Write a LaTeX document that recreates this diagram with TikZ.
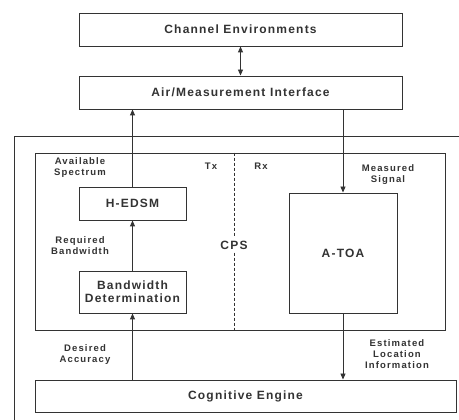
\documentclass[tikz,border=0pt]{standalone}
\usepackage{fontspec}
\setmainfont{Liberation Sans}
\newfontfamily\boxfont[LetterSpace=10]{Liberation Sans}
\newfontfamily\lblfont[LetterSpace=12]{Liberation Sans}
\usetikzlibrary{arrows.meta}
\definecolor{ink}{HTML}{333333}
\begin{document}
\begin{tikzpicture}[x=1pt,y=-1pt,
  box/.style={draw=ink,line width=0.9pt,inner sep=0pt,align=center,font=\boxfont\bfseries\fontsize{12}{13}\selectfont,text=ink},
  lbl/.style={inner sep=0pt,align=center,font=\lblfont\bfseries\fontsize{9.5}{11}\selectfont,text=ink},
  arr/.style={draw=ink,line width=0.9pt,-{Triangle[length=6pt,width=5pt]}},
  darr/.style={draw=ink,line width=0.9pt,{Triangle[length=6pt,width=5pt]}-{Triangle[length=6pt,width=5pt]}}]
\useasboundingbox[fill=white] (0,0) rectangle (459,420);
% outer frame (open to the right and bottom)
\draw[ink,line width=0.9pt] (14,420) -- (14,136) -- (459,136);
\node[box,minimum width=323pt,minimum height=33pt] (ce) at (240.5,29.5) {Channel Environments};
\node[box,minimum width=323pt,minimum height=33pt] (ami) at (240.5,92.5) {Air/Measurement Interface};
\node[draw=ink,line width=0.9pt,inner sep=0pt,minimum width=410pt,minimum height=177pt] (cpsbox) at (240,241.5) {};
\node[box,minimum width=107pt,minimum height=33pt] (hedsm) at (132.5,203.5) {H-EDSM};
\node[box,minimum width=107pt,minimum height=42pt] (bd) at (132.5,292) {Bandwidth\\Determination};
\node[box,minimum width=108pt,minimum height=120pt] (atoa) at (343,253) {A-TOA};
\node[box,minimum width=421pt,minimum height=32pt] (cog) at (245.5,396) {Cognitive Engine};
\node[box,draw=none,fill=white,inner sep=3pt] (cps) at (234,245) {CPS};
\node[lbl] (tx) at (211,166) {Tx};
\node[lbl] (rx) at (261,166) {Rx};
\node[lbl] (avail) at (80,168) {Available\\Spectrum};
\node[lbl] (req) at (80,245.5) {Required\\Bandwidth};
\node[lbl] (meas) at (388,175) {Measured\\Signal};
\node[lbl] (des) at (85,355) {Desired\\Accuracy};
\node[lbl] (est) at (397,354.5) {Estimated\\Location\\Information};
% dashed divider
\draw[ink,line width=0.8pt,dash pattern=on 3pt off 2pt] (cps.north |- cpsbox.north) -- (cps.north);
\draw[ink,line width=0.8pt,dash pattern=on 3pt off 2pt] (cps.south) -- (cps.south |- cpsbox.south);
% connectors
\draw[darr] (ce) -- (ami);
\draw[arr] (hedsm.north) -- (hedsm.north |- ami.south);
\draw[arr] (bd.north) -- (hedsm.south);
\draw[arr] (bd.south |- cog.north) -- (bd.south);
\draw[arr] (atoa.north |- ami.south) -- (atoa.north);
\draw[arr] (atoa.south) -- (atoa.south |- cog.north);
\end{tikzpicture}
\end{document}
